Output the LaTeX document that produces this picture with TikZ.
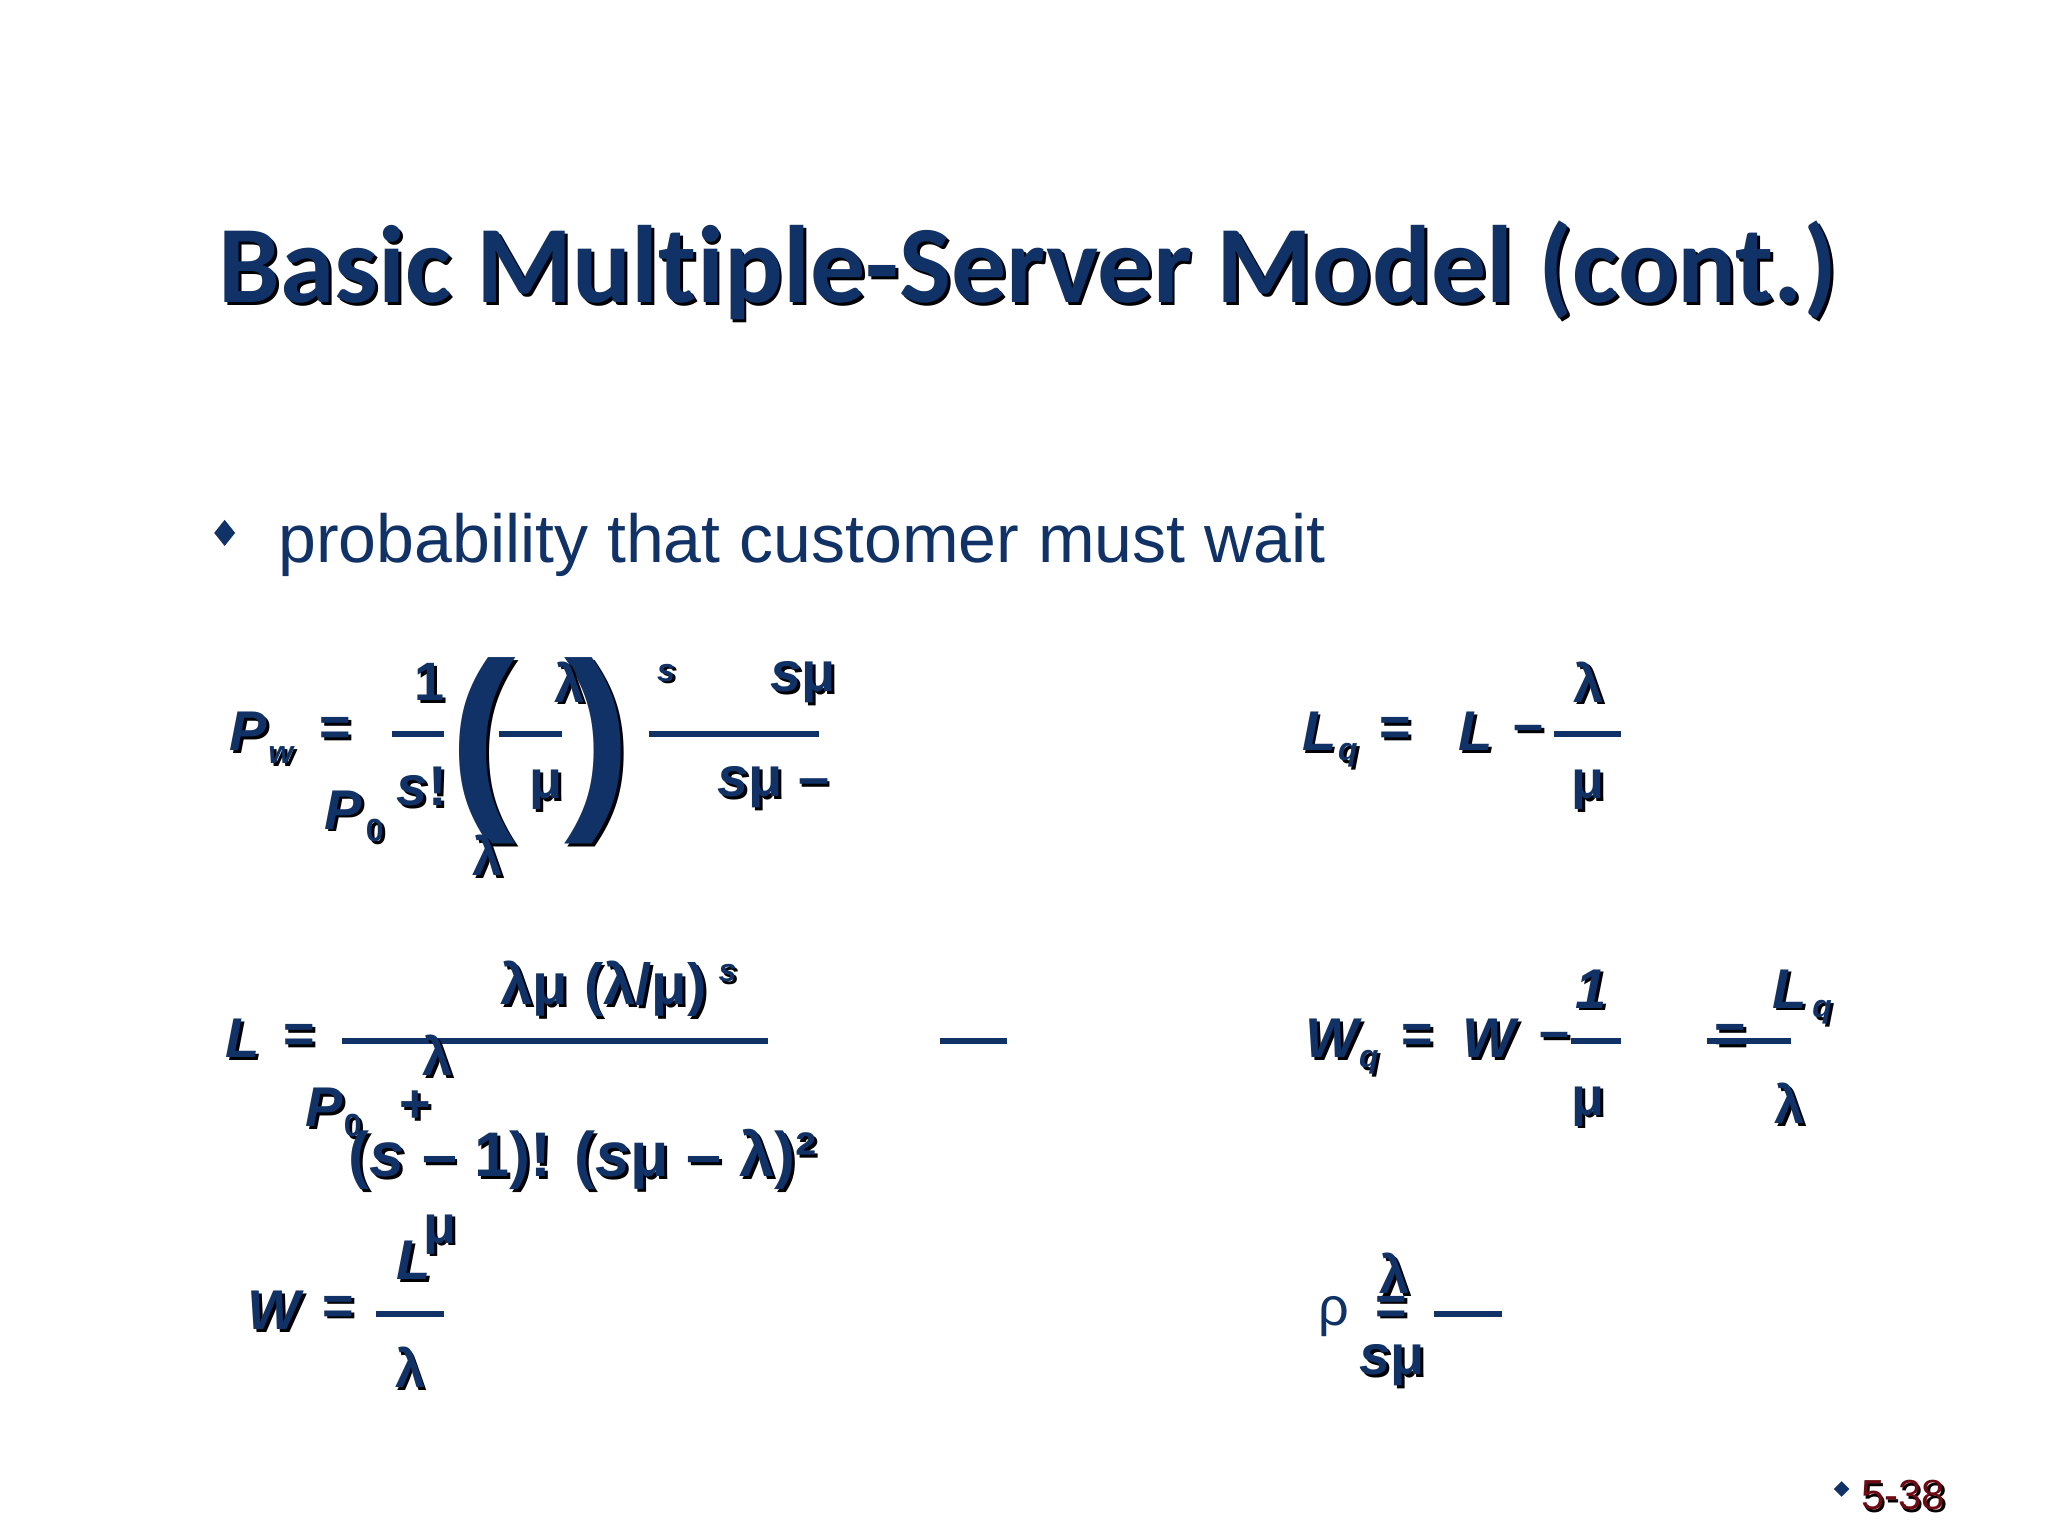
\documentclass[tikz,border=0pt]{standalone}
\usepackage{fontspec}
\setmainfont{Liberation Sans}
\newfontfamily\titlefont[Ligatures=NoCommon]{Carlito}
\definecolor{navy}{RGB}{16,50,102}
\definecolor{dred}{RGB}{110,10,20}
\newcommand{\SH}[3][]{%
 \node[text=black,#1] at ($(#2)+(2.2,2.2)$) {#3};
 \node[text=navy,#1] at (#2) {#3};}
\newcommand{\FS}[1]{\fontsize{#1}{#1}\selectfont}
\newcommand{\up}[1]{{\upshape #1}}
\usetikzlibrary{calc}
\begin{document}
\begin{tikzpicture}[x=1.306pt,y=-1.306pt,every node/.style={inner sep=0pt,anchor=center}]
\useasboundingbox (0,0) rectangle (1568,1176);
\fill[white] (0,0) rectangle (1568,1176);
\tikzset{fl/.style={line width=5.5pt,draw=navy},
 it/.style={font=\FS{56}\bfseries\itshape},
 up/.style={font=\FS{54}\bfseries},
 sb/.style={font=\FS{32}\bfseries\itshape}}
% title
\SH[font=\titlefont\FS{110}\bfseries]{787,207}{Basic Multiple-Server Model (cont.)}
% bullet
\fill[navy] (172,398) -- (180,408) -- (172,418) -- (164,408) -- cycle;
\node[anchor=west,text=navy,font=\FS{68}] (bt) at (213,417) {probability that customer must wait};
% Pw
\SH[it]{190,560}{P} \SH[sb]{215,578}{w} \SH[up]{257,560}{=}
\SH[up]{329,522}{1} \draw[fl] (300,562) -- (340,562); \SH[it]{323,602}{s\up{!}}
\SH[it]{263,620}{P} \SH[sb]{287,636}{\up{0}}
\SH[font=\FS{200}\bfseries]{370,575}{(} \SH[font=\FS{200}\bfseries]{458,575}{)}
\SH[up]{436,522}{λ} \draw[fl] (382,562) -- (430,562); \SH[up]{418,605}{μ} \SH[up]{373,655}{λ}
\SH[sb]{510,515}{s}
\draw[fl] (497,562) -- (627,562);
\SH[it]{615,522}{s\up{μ}} \SH[it]{592,603}{s\up{μ –}}
% Lq
\SH[it]{1010,560}{L} \SH[sb]{1032,578}{q} \SH[up]{1068,560}{=}
\SH[it]{1130,560}{L} \SH[up]{1170,562}{–} \draw[fl] (1190,562) -- (1241,562);
\SH[up]{1216,522}{λ} \SH[up]{1216,605}{μ}
% L
\SH[it]{186,795}{L} \SH[up]{229,795}{=}
\draw[fl] (262,797) -- (588,797);
\SH[font=\FS{58}\bfseries]{462,757}{λμ (λ/μ)} \SH[sb]{557,745}{s}
\SH[up]{335,808}{λ}
\SH[it]{248,848}{P} \SH[sb]{270,862}{\up{0}} \SH[up]{318,847}{+}
\SH[font=\FS{63}\bfseries]{446,888}{({\itshape s} – 1)! ({\itshape s}μ – λ)²}
\draw[fl] (720,797) -- (771,797);
% Wq
\SH[it]{1020,795}{W} \SH[sb]{1048,813}{q} \SH[up]{1085,795}{=}
\SH[it]{1140,795}{W} \SH[up]{1190,797}{–} \draw[fl] (1203,797) -- (1241,797);
\SH[it]{1218,757}{1} \SH[up]{1216,847}{μ}
\SH[up]{1325,795}{=} \draw[fl] (1307,797) -- (1371,797);
\SH[it]{1370,757}{L} \SH[sb]{1395,775}{q} \SH[up]{1370,845}{λ}
% W
\SH[it]{210,1003}{W} \SH[up]{259,1003}{=} \draw[fl] (288,1006) -- (340,1006);
\SH[it]{317,965}{L} \SH[up]{337,945}{μ} \SH[up]{314,1047}{λ}
% rho
\node[text=navy,font=\FS{54}] at (1021,1008) {ρ}; \SH[up]{1065,1003}{=} \SH[up]{1068,975}{λ} \SH[it]{1066,1045}{s\up{μ}}
\draw[fl] (1098,1006) -- (1150,1006);
% footer
\fill[navy] (1410,1134) -- (1416,1140) -- (1410,1146) -- (1404,1140) -- cycle;
\node[text=black,font=\FS{42}] at (1459,1147) {5-38};
\node[text=dred,font=\FS{42}] (pg) at (1457,1145) {5-38};
\end{tikzpicture}
\end{document}
